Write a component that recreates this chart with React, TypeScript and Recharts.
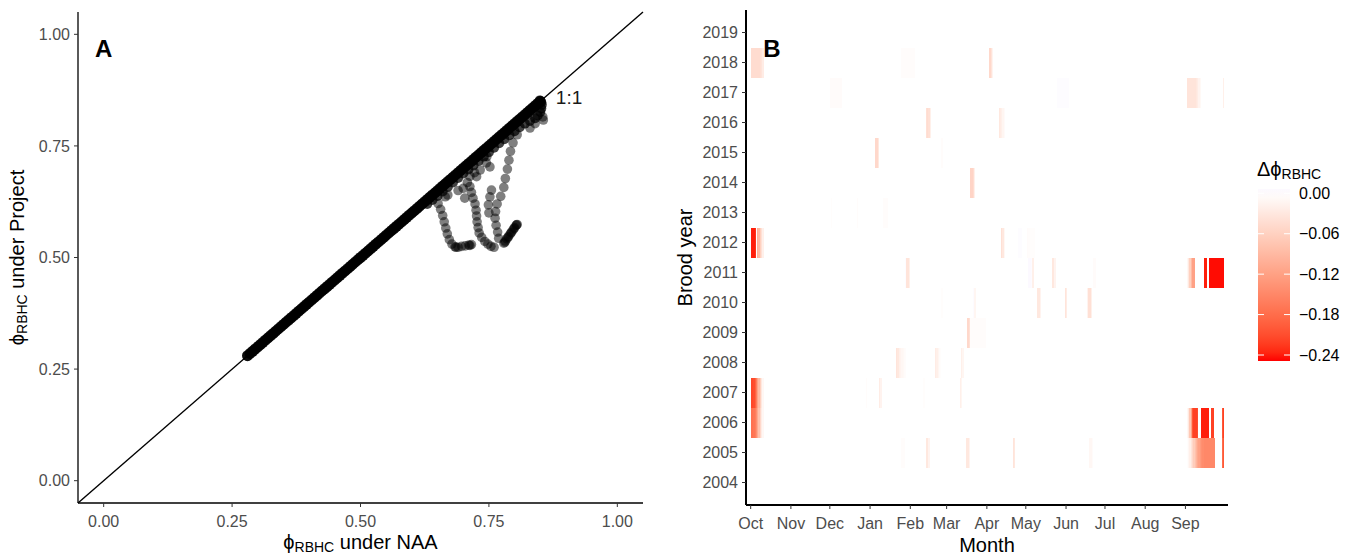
import React from 'react';
import {
  ScatterChart,
  Scatter,
  XAxis,
  YAxis,
  ReferenceLine,
  ReferenceArea,
  ReferenceDot,
} from 'recharts';

const FONT = "'Liberation Sans', Arial, Helvetica, sans-serif";
const PHI = '\u03D5';

// ---------------- Panel A data ----------------
const naaTicks = [0, 0.25, 0.5, 0.75, 1];

// points on the 1:1 line (all years coincide)
const diagNAA = [0.28, 0.285, 0.29, 0.295, 0.30, 0.305, 0.31, 0.315, 0.32, 0.325, 0.33, 0.335, 0.34, 0.345, 0.35, 0.355, 0.36, 0.365, 0.37, 0.375, 0.38, 0.385, 0.39, 0.395, 0.40, 0.405, 0.41, 0.415, 0.42, 0.425, 0.43, 0.435, 0.44, 0.445, 0.45, 0.455, 0.46, 0.465, 0.47, 0.475, 0.48, 0.485, 0.49, 0.495, 0.50, 0.505, 0.51, 0.515, 0.52, 0.525, 0.53, 0.535, 0.54, 0.545, 0.55, 0.555, 0.56, 0.565, 0.57, 0.575, 0.58, 0.585, 0.59, 0.595, 0.60, 0.605, 0.61, 0.615, 0.62, 0.625, 0.63, 0.635, 0.64, 0.645, 0.65, 0.655, 0.66, 0.665, 0.67, 0.675, 0.68, 0.685, 0.69, 0.695, 0.70, 0.705, 0.71, 0.715, 0.72, 0.725, 0.73, 0.735, 0.74, 0.745, 0.75, 0.755, 0.76, 0.765, 0.77, 0.775, 0.78, 0.785, 0.79, 0.795, 0.80, 0.805, 0.81, 0.815, 0.82, 0.825, 0.83, 0.835, 0.84, 0.845, 0.85];
const diagProject = [0.28, 0.285, 0.29, 0.295, 0.30, 0.305, 0.31, 0.315, 0.32, 0.325, 0.33, 0.335, 0.34, 0.345, 0.35, 0.355, 0.36, 0.365, 0.37, 0.375, 0.38, 0.385, 0.39, 0.395, 0.40, 0.405, 0.41, 0.415, 0.42, 0.425, 0.43, 0.435, 0.44, 0.445, 0.45, 0.455, 0.46, 0.465, 0.47, 0.475, 0.48, 0.485, 0.49, 0.495, 0.50, 0.505, 0.51, 0.515, 0.52, 0.525, 0.53, 0.535, 0.54, 0.545, 0.55, 0.555, 0.56, 0.565, 0.57, 0.575, 0.58, 0.585, 0.59, 0.595, 0.60, 0.605, 0.61, 0.615, 0.62, 0.625, 0.63, 0.635, 0.64, 0.645, 0.65, 0.655, 0.66, 0.665, 0.67, 0.675, 0.68, 0.685, 0.69, 0.695, 0.70, 0.705, 0.71, 0.715, 0.72, 0.725, 0.73, 0.735, 0.74, 0.745, 0.75, 0.755, 0.76, 0.765, 0.77, 0.775, 0.78, 0.785, 0.79, 0.795, 0.80, 0.805, 0.81, 0.815, 0.82, 0.825, 0.83, 0.835, 0.84, 0.845, 0.85];

// points just below the line (upper range)
const bandNAA = [0.63, 0.64, 0.65, 0.66, 0.67, 0.68, 0.69, 0.70, 0.71, 0.72, 0.73, 0.74, 0.75, 0.76, 0.77, 0.78, 0.79, 0.80, 0.81, 0.82, 0.83, 0.84, 0.845, 0.85, 0.852, 0.853, 0.852, 0.849];
const bandProject = [0.62, 0.629, 0.638, 0.648, 0.658, 0.668, 0.678, 0.688, 0.697, 0.706, 0.716, 0.726, 0.736, 0.746, 0.756, 0.765, 0.774, 0.783, 0.792, 0.80, 0.806, 0.812, 0.818, 0.826, 0.834, 0.842, 0.848, 0.852];

// excursions below the 1:1 line
const excNAA = [
  0.651, 0.656, 0.660, 0.663, 0.666, 0.669, 0.673, 0.678, 0.684, 0.686, 0.690, 0.697, 0.704, 0.711, 0.713, 0.716,
  0.713, 0.716, 0.719, 0.723, 0.725, 0.726, 0.727, 0.729, 0.731, 0.736, 0.742, 0.748, 0.754, 0.760,
  0.805, 0.797, 0.792, 0.789, 0.786, 0.782, 0.779, 0.773, 0.766, 0.763, 0.762, 0.764, 0.767, 0.769,
  0.779, 0.781, 0.782, 0.785, 0.787, 0.788, 0.791, 0.793, 0.794, 0.797, 0.799, 0.800, 0.803, 0.804, 0.805,
  0.746, 0.752, 0.755, 0.752, 0.749, 0.750,
  0.665, 0.670, 0.690, 0.700, 0.703, 0.708, 0.713, 0.726, 0.733, 0.745, 0.722,
  0.830, 0.840, 0.855, 0.856,
];
const excProject = [
  0.621, 0.608, 0.594, 0.580, 0.566, 0.553, 0.540, 0.530, 0.524, 0.523, 0.523, 0.525, 0.526, 0.528, 0.527, 0.529,
  0.659, 0.646, 0.633, 0.620, 0.606, 0.593, 0.580, 0.567, 0.555, 0.545, 0.536, 0.530, 0.525, 0.523,
  0.775, 0.757, 0.738, 0.718, 0.698, 0.677, 0.657, 0.637, 0.620, 0.603, 0.588, 0.572, 0.557, 0.543,
  0.532, 0.534, 0.537, 0.542, 0.545, 0.547, 0.552, 0.555, 0.557, 0.562, 0.565, 0.567, 0.572, 0.573, 0.574,
  0.726, 0.703, 0.651, 0.636, 0.618, 0.600,
  0.636, 0.640, 0.650, 0.655, 0.633, 0.668, 0.682, 0.681, 0.696, 0.712, 0.690,
  0.790, 0.800, 0.815, 0.808,
];

const diagData = diagNAA.map((v, i) => ({ naa: v, project: diagProject[i] }));
const bandData = bandNAA.map((v, i) => ({ naa: v, project: bandProject[i] }));
const excData = excNAA.map((v, i) => ({ naa: v, project: excProject[i] }));

// ---------------- Panel B data ----------------
const yearTicks = [2004, 2005, 2006, 2007, 2008, 2009, 2010, 2011, 2012, 2013, 2014, 2015, 2016, 2017, 2018, 2019];
const monthTicks = [0, 31, 61, 92, 123, 151, 182, 212, 243, 273, 304, 335];
const monthLabels = ['Oct', 'Nov', 'Dec', 'Jan', 'Feb', 'Mar', 'Apr', 'May', 'Jun', 'Jul', 'Aug', 'Sep'];
const legendTicks = [0, -0.06, -0.12, -0.18, -0.24];

// runs of daily delta values: [first day since Oct 1, [values...]]
const runs2018 = [[0, [-0.045, -0.045, -0.045, -0.045, -0.045, -0.045, -0.045, -0.04, -0.035, -0.025]], [116, [-0.004, -0.004, -0.004, -0.004, -0.004, -0.004, -0.004, -0.004, -0.004, -0.004, -0.004]], [184, [-0.05, -0.035, -0.015]]];
const runs2017 = [[61, [-0.005, -0.005, -0.005, -0.005, -0.005, -0.005, -0.005, -0.005, -0.005]], [236, [0.003, 0.003, 0.003, 0.003, 0.003, 0.003, 0.003, 0.003, 0.003]], [336, [-0.035, -0.035, -0.035, -0.035, -0.035, -0.035, -0.035, -0.03, -0.025, -0.015, -0.008]], [364, [-0.02]]];
const runs2016 = [[135, [-0.04, -0.045, -0.04, -0.02]], [191, [-0.03, -0.025, -0.02, -0.012, -0.006]]];
const runs2015 = [[96, [-0.05, -0.05, -0.03]], [147, [-0.004]]];
const runs2014 = [[169, [-0.055, -0.055, -0.045, -0.02]]];
const runs2013 = [[62, [-0.003]], [82, [-0.004]], [102, [-0.004, -0.004, -0.004, -0.004]]];
const runs2012 = [[0, [-0.24, -0.24, -0.24, -0.23]], [5, [-0.1, -0.09, -0.06, -0.04, -0.02]], [193, [-0.04, -0.03, -0.01]], [206, [0.003, 0.003, 0.003]], [213, [-0.005, -0.004, -0.003, -0.003, -0.003, -0.003]]];
const runs2011 = [[119, [0.003, -0.035, -0.035, -0.02]], [214, [0.006, 0.006, 0.004, -0.02]], [232, [-0.03, -0.03, -0.015]], [264, [-0.005, -0.005]], [336, [-0.01, -0.03, -0.06, -0.09, -0.12, -0.12]], [349, [-0.24, -0.24, -0.24]], [353, [-0.245, -0.245, -0.245, -0.245, -0.245, -0.245, -0.245, -0.245, -0.245, -0.245, -0.245, -0.245]]];
const runs2010 = [[147, [-0.003]], [171, [0.004, -0.012, -0.012]], [221, [-0.03, -0.03, -0.015]], [242, [-0.035, -0.025]], [259, [-0.015, -0.04, -0.04, -0.02]]];
const runs2009 = [[167, [-0.05, -0.04]], [169, [-0.004, -0.004, -0.004, -0.004, -0.004, -0.004, -0.004, -0.004, -0.004, -0.004, -0.004, -0.004]]];
const runs2008 = [[112, [-0.035, -0.03, -0.02, -0.015, -0.01, -0.008, -0.005, -0.004]], [142, [-0.025, -0.02, -0.012, -0.005, -0.003]], [162, [-0.02, -0.012]]];
const runs2007 = [[0, [-0.215, -0.215, -0.21, -0.19, -0.16, -0.12, -0.09, -0.06, -0.03, -0.01]], [89, [-0.004]], [99, [-0.025, -0.015]], [133, [-0.003]], [161, [-0.02, -0.012]]];
const runs2006 = [[0, [-0.175, -0.175, -0.17, -0.16, -0.14, -0.11, -0.08, -0.05, -0.025, -0.01]], [336, [-0.01, -0.03, -0.07, -0.12]], [340, [-0.2, -0.22, -0.22, -0.22, -0.21]], [347, [-0.24, -0.24, -0.24, -0.24, -0.24, -0.24]], [355, [-0.22, -0.22]], [363, [-0.2, -0.22]]];
const runs2005 = [[116, [-0.004, -0.004, -0.004]], [135, [-0.03, -0.03, -0.015]], [166, [-0.03, -0.03, -0.015]], [202, [-0.035, -0.03]], [261, [-0.01, -0.01, -0.005]], [336, [-0.003, -0.01, -0.02, -0.035, -0.05, -0.065, -0.08, -0.095, -0.11, -0.12, -0.13, -0.14, -0.145, -0.15, -0.15, -0.15, -0.15, -0.15, -0.15, -0.15, -0.15, -0.15]], [363, [-0.18, -0.2]]];

const runsByYear: [number, any[]][] = [
  [2018, runs2018], [2017, runs2017], [2016, runs2016], [2015, runs2015], [2014, runs2014],
  [2013, runs2013], [2012, runs2012], [2011, runs2011], [2010, runs2010], [2009, runs2009],
  [2008, runs2008], [2007, runs2007], [2006, runs2006], [2005, runs2005],
];

const tiles: { year: number; day: number; value: number }[] = [];
runsByYear.forEach(([year, runs]) => {
  runs.forEach(([start, vals]: [number, number[]]) => {
    vals.forEach((v, i) => tiles.push({ year, day: start + i, value: v }));
  });
});

// ---------------- colour scale (Lab interpolation, white mid) ----------------
const FILL_LIMIT = 0.247;
const RED_LAB = [53.24, 80.09, 67.2];
const BLUE_LAB = [32.3, 79.19, -107.86];
function labToHex(L: number, a: number, b: number) {
  const fy = (L + 16) / 116;
  const fx = fy + a / 500;
  const fz = fy - b / 200;
  const finv = (t: number) => (t * t * t > 0.008856 ? t * t * t : (t - 16 / 116) / 7.787);
  const X = 0.95047 * finv(fx);
  const Y = finv(fy);
  const Z = 1.08883 * finv(fz);
  const lin = [
    3.2406 * X - 1.5372 * Y - 0.4986 * Z,
    -0.9689 * X + 1.8758 * Y + 0.0415 * Z,
    0.0557 * X - 0.204 * Y + 1.057 * Z,
  ];
  return (
    '#' +
    lin
      .map((c) => {
        const g = c <= 0.0031308 ? 12.92 * c : 1.055 * Math.pow(c, 1 / 2.4) - 0.055;
        const n = Math.round(Math.max(0, Math.min(1, g)) * 255);
        return n.toString(16).padStart(2, '0');
      })
      .join('')
  );
}
function fillFor(v: number) {
  const t = Math.min(1, Math.abs(v) / FILL_LIMIT);
  const end = v < 0 ? RED_LAB : BLUE_LAB;
  return labToHex(100 + (end[0] - 100) * t, end[1] * t, end[2] * t);
}

// ---------------- shared styles ----------------
const tickStyle = { fill: '#4D4D4D', fontSize: 16, fontFamily: FONT };
const tickLine = { stroke: '#333', strokeWidth: 1 };

const dotDiag = (p: any) => <circle cx={p.cx} cy={p.cy} r={5.5} fill="#000" fillOpacity={0.95} />;
const dotBand = (p: any) => <circle cx={p.cx} cy={p.cy} r={5} fill="#000" fillOpacity={0.75} />;
const dotExc = (p: any) => <circle cx={p.cx} cy={p.cy} r={4.8} fill="#000" fillOpacity={0.5} />;

const xTitleA = (p: any) => {
  const vb = p.viewBox;
  return (
    <text x={vb.x + vb.width / 2} y={vb.y + 46} textAnchor="middle" fontSize={20} fontFamily={FONT} fill="#000">
      {PHI}<tspan fontSize={14} dy={3}>RBHC</tspan>
      <tspan dy={-3}> under NAA</tspan>
    </text>
  );
};
const yTitleA = (p: any) => {
  const vb = p.viewBox;
  const cy = vb.y + vb.height / 2;
  return (
    <text transform={`translate(24,${cy}) rotate(-90)`} textAnchor="middle" fontSize={20} fontFamily={FONT} fill="#000">
      {PHI}<tspan fontSize={14} dy={3}>RBHC</tspan>
      <tspan dy={-3}> under Project</tspan>
    </text>
  );
};
const xTitleB = (p: any) => {
  const vb = p.viewBox;
  return (
    <text x={vb.x + vb.width / 2} y={vb.y + 47} textAnchor="middle" fontSize={20} fontFamily={FONT} fill="#000">
      Month
    </text>
  );
};
const yTitleB = (p: any) => {
  const vb = p.viewBox;
  const cy = vb.y + vb.height / 2;
  return (
    <text transform={`translate(${vb.x + 32},${cy}) rotate(-90)`} textAnchor="middle" fontSize={20} fontFamily={FONT} fill="#000">
      Brood year
    </text>
  );
};
const tag = (s: string) => (p: any) => (
  <text x={p.viewBox.x} y={p.viewBox.y} dy="0.36em" textAnchor="middle" fontSize={24} fontWeight="bold" fontFamily={FONT} fill="#000">
    {s}
  </text>
);
const oneToOne = (p: any) => (
  <text x={p.viewBox.x} y={p.viewBox.y} dy="0.36em" textAnchor="middle" fontSize={19} fontFamily={FONT} fill="#1a1a1a">
    1:1
  </text>
);

function PanelA() {
  return (
    <ScatterChart width={660} height={556} margin={{ top: 12, right: 17, bottom: 0, left: 0 }}>
      <XAxis
        type="number"
        dataKey="naa"
        domain={[-0.05, 1.05]}
        allowDataOverflow
        ticks={naaTicks}
        tickFormatter={(v: number) => v.toFixed(2)}
        height={53}
        tickSize={4}
        tickMargin={9}
        tick={tickStyle}
        tickLine={tickLine}
        axisLine={{ stroke: '#000', strokeWidth: 1.3 }}
        label={xTitleA}
      />
      <YAxis
        type="number"
        dataKey="project"
        domain={[-0.05, 1.05]}
        allowDataOverflow
        ticks={naaTicks}
        tickFormatter={(v: number) => v.toFixed(2)}
        width={78}
        tickSize={4}
        tickMargin={4}
        tick={tickStyle}
        tickLine={tickLine}
        axisLine={{ stroke: '#000', strokeWidth: 1.3 }}
        label={yTitleA}
      />
      <ReferenceLine
        segment={[{ x: -0.05, y: -0.05 }, { x: 1.05, y: 1.05 }]}
        stroke="#000"
        strokeWidth={1.4}
        ifOverflow="visible"
      />
      <Scatter data={diagData} shape={dotDiag} isAnimationActive={false} />
      <Scatter data={bandData} shape={dotBand} isAnimationActive={false} />
      <Scatter data={excData} shape={dotExc} isAnimationActive={false} />
      <ReferenceDot x={0.906} y={0.86} r={0} fill="none" stroke="none" label={oneToOne} ifOverflow="visible" />
      <ReferenceDot x={0} y={0.969} r={0} fill="none" stroke="none" label={tag('A')} ifOverflow="visible" />
    </ScatterChart>
  );
}

function PanelB() {
  return (
    <ScatterChart width={570} height={556} margin={{ top: 10, right: 2, bottom: 0, left: 0 }}>
      <XAxis
        type="number"
        dataKey="day"
        domain={[-3.6, 367.8]}
        allowDataOverflow
        ticks={monthTicks}
        tickFormatter={(v: number) => monthLabels[monthTicks.indexOf(v)]}
        height={51}
        tickSize={4}
        tickMargin={9}
        tick={tickStyle}
        tickLine={tickLine}
        axisLine={{ stroke: '#000', strokeWidth: 2 }}
        label={xTitleB}
      />
      <XAxis
        xAxisId="top"
        orientation="top"
        type="number"
        domain={[-3.6, 367.8]}
        allowDataOverflow
        height={0}
        tick={false}
        tickLine={false}
        axisLine={{ stroke: '#333', strokeWidth: 1.2 }}
      />
      <YAxis
        type="number"
        dataKey="year"
        domain={[2003.25, 2019.75]}
        allowDataOverflow
        ticks={yearTicks}
        width={86}
        tickSize={4}
        tickMargin={4}
        tick={tickStyle}
        tickLine={tickLine}
        axisLine={{ stroke: '#000', strokeWidth: 2 }}
        label={yTitleB}
      />
      <YAxis
        yAxisId="right"
        orientation="right"
        type="number"
        domain={[2003.25, 2019.75]}
        allowDataOverflow
        width={0}
        tick={false}
        tickLine={false}
        axisLine={{ stroke: '#333', strokeWidth: 1.2 }}
      />
      {tiles.map((t, i) => (
        <ReferenceArea
          key={i}
          x1={t.day}
          x2={t.day + 1}
          y1={t.year - 0.5}
          y2={t.year + 0.5}
          fill={fillFor(t.value)}
          fillOpacity={1}
          stroke="none"
          shapeRendering="crispEdges"
          ifOverflow="visible"
        />
      ))}
      <ReferenceDot x={16.4} y={2018.48} r={0} fill="none" stroke="none" label={tag('B')} ifOverflow="visible" />
    </ScatterChart>
  );
}

function ColorLegend() {
  const top = 189;
  const bottom = 361;
  const zeroY = 193.3;
  const pxPerUnit = 673.75;
  const vTop = (zeroY - top) / pxPerUnit;
  const vBottom = -(bottom - zeroY) / pxPerUnit;
  const stops = Array.from({ length: 21 }, (_, i) => {
    const v = vTop + (vBottom - vTop) * (i / 20);
    return <stop key={i} offset={`${(i / 20) * 100}%`} stopColor={fillFor(v)} />;
  });
  return (
    <svg width={1353} height={556} style={{ position: 'absolute', left: 0, top: 0, pointerEvents: 'none' }}>
      <defs>
        <linearGradient id="deltaGrad" x1="0" y1="0" x2="0" y2="1">
          {stops}
        </linearGradient>
      </defs>
      <text x={1257} y={176} fontSize={20} fontFamily={FONT} fill="#000">
        Δ{PHI}<tspan fontSize={14} dy={3}>RBHC</tspan>
      </text>
      <rect x={1258} y={top} width={32} height={bottom - top} fill="url(#deltaGrad)" />
      {legendTicks.map((v) => {
        const y = zeroY - v * pxPerUnit;
        return (
          <g key={v}>
            <line x1={1258} x2={1264} y1={y} y2={y} stroke="#fff" strokeWidth={1} />
            <line x1={1284} x2={1290} y1={y} y2={y} stroke="#fff" strokeWidth={1} />
            <text x={1299} y={y} dy="0.36em" fontSize={16} fontFamily={FONT} fill="#000">
              {v === 0 ? '0.00' : '\u2212' + Math.abs(v).toFixed(2)}
            </text>
          </g>
        );
      })}
    </svg>
  );
}

export default function App() {
  return (
    <div style={{ position: 'absolute', left: 0, top: 0, width: 1353, height: 556, background: '#fff', fontFamily: FONT }}>
      <div style={{ position: 'absolute', left: 0, top: 0 }}>
        <PanelA />
      </div>
      <div style={{ position: 'absolute', left: 660, top: 0 }}>
        <PanelB />
      </div>
      <ColorLegend />
    </div>
  );
}
